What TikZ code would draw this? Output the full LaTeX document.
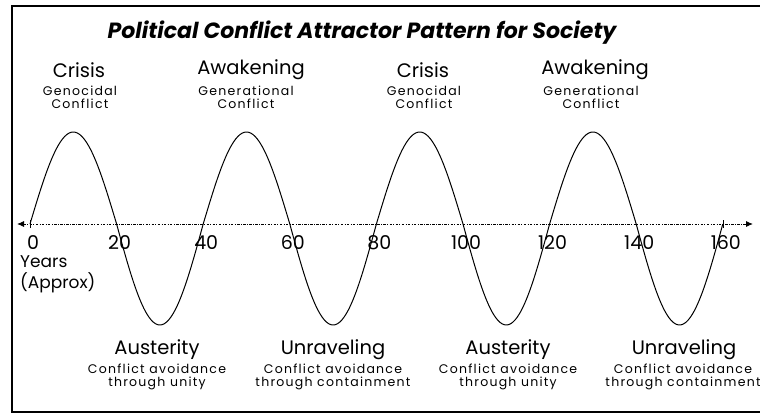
\documentclass[tikz,border=0pt]{standalone}
\usepackage{fontspec}
\setmainfont{Poppins}
\newfontfamily\notefont[LetterSpace=10]{Poppins}
\usetikzlibrary{arrows.meta}
\begin{document}
\begin{tikzpicture}[x=1pt,y=-1pt,
  title/.style={font=\fontsize{22}{24}\selectfont\bfseries\itshape},
  phase/.style={font=\fontsize{19.5}{21}\selectfont, inner sep=0pt},
  note/.style={font=\notefont\fontsize{12.5}{12.5}\selectfont, align=center, anchor=north, inner sep=0pt},
  yearlbl/.style={font=\fontsize{19}{20}\selectfont, inner sep=0pt},
  wave/.style={line width=1pt, line join=round},
  axisline/.style={line width=0.9pt, dash pattern=on 2.5pt off 1.3pt on 1pt off 1.3pt,
    {Latex[length=7pt,width=6pt]}-{Latex[length=7pt,width=6pt]}},
  tickmark/.style={line width=0.8pt}
]
\useasboundingbox (0,0) rectangle (760,414);

% open frame (left, top and bottom edges)
\draw[line width=1.3pt] (760,6) -- (12,6) -- (12,412) -- (760,412);

% title
\node[title] (ttl) at (362,33) {Political Conflict Attractor Pattern for Society};

% time axis
\coordinate (axL) at (17,224);
\coordinate (axR) at (753,224);
\draw[axisline] (axL) -- (axR);
\coordinate (t0) at (30,224);
\coordinate (t160) at (723,224);
\draw[tickmark] ([yshift=-4]t0) -- ([yshift=4]t0);
\draw[tickmark] ([yshift=-4]t160) -- ([yshift=4]t160);

% the cycle: period 40 years, 4.33 px per year
\draw[wave] plot[domain=0:160, samples=321, smooth]
  ({30+4.33*\x}, {224 - 96.5*sin(9*\x) + 4.5*abs(sin(9*\x))});

% year labels
\foreach \yr/\nm in {0/y0,20/y20,40/y40,60/y60,80/y80,100/y100,120/y120,140/y140,160/y160}
  \node[yearlbl] (\nm) at ({33+4.33*\yr},243) {\yr};
\node[yearlbl, anchor=north west, align=left, font=\fontsize{17}{21}\selectfont] (yrs) at (20,255) {Years\\(Approx)};

% peaks
\node[phase] (c1) at (79,70) {Crisis};
\node[note] (c1n) at (80,86) {Genocidal\\Conflict};
\node[phase] (a1) at (251,70) {Awakening};
\node[note] (a1n) at (246,86) {Generational\\Conflict};
\node[phase] (c2) at (423,70) {Crisis};
\node[note] (c2n) at (424,86) {Genocidal\\Conflict};
\node[phase] (a2) at (595,70) {Awakening};
\node[note] (a2n) at (591,86) {Generational\\Conflict};

% troughs
\node[phase] (s1) at (157,350) {Austerity};
\node[note] (s1n) at (157,364) {Conflict avoidance\\through unity};
\node[phase] (u1) at (333,350) {Unraveling};
\node[note] (u1n) at (333,364) {Conflict avoidance\\through containment};
\node[phase] (s2) at (508,350) {Austerity};
\node[note] (s2n) at (508,364) {Conflict avoidance\\through unity};
\node[phase] (u2) at (684,350) {Unraveling};
\node[note] (u2n) at (683,364) {Conflict avoidance\\through containment};
\end{tikzpicture}
\end{document}
